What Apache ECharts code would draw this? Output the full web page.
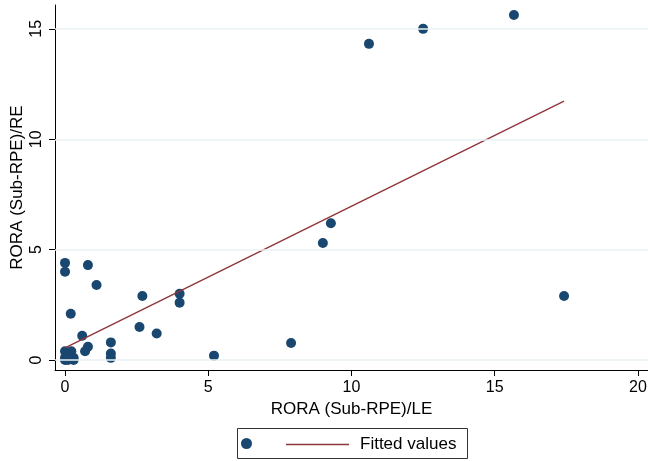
<!DOCTYPE html>
<html>
<head>
<meta charset="utf-8">
<script src="https://cdn.jsdelivr.net/npm/echarts@6/dist/echarts.min.js"></script>
<style>html,body{margin:0;padding:0;background:#fff;}#c{width:648px;height:461px;}</style>
</head>
<body>
<div id="c"></div>
<script>
const xTicks = [0, 5, 10, 15, 20];
const yTicks = [0, 5, 10, 15];
const obsX = [15.67, 12.5, 10.61, 17.42, 9.28, 9.0, 7.89, 5.2, 4.0, 4.0, 3.2, 2.7, 2.6, 1.6, 1.6, 1.6, 1.1, 0.8, 0.8, 0.7, 0.6, 0.2, 0, 0, 0, 0.22, 0, 0, 0.1, 0.3, 0.3, 0.1];
const obsY = [15.63, 15.0, 14.32, 2.9, 6.2, 5.3, 0.77, 0.2, 3.0, 2.6, 1.2, 2.9, 1.5, 0.8, 0.3, 0.1, 3.4, 4.3, 0.6, 0.4, 1.1, 2.1, 4.4, 4.0, 0.4, 0.4, 0.1, 0, 0, 0.1, 0, 0.2];
const fitX = [0, 17.42];
const fitY = [0.55, 11.73];

const font = "'Liberation Sans', Arial, sans-serif";
const chart = echarts.init(document.getElementById('c'));
chart.setOption({
  animation: false,
  backgroundColor: '#fff',
  textStyle: { fontFamily: font },
  grid: { left: 55, right: 0, top: 5, bottom: 91, containLabel: false, outerBoundsMode: 'none' },
  xAxis: {
    type: 'value', min: -0.35, max: 20.35,
    name: 'RORA (Sub-RPE)/LE', nameLocation: 'middle', nameGap: 31, nameMoveOverlap: false,
    nameTextStyle: { fontSize: 17, color: '#000', fontFamily: font },
    axisLine: { show: true, onZero: false, lineStyle: { color: '#000', width: 1 } },
    axisTick: { show: true, customValues: xTicks, length: 6, lineStyle: { color: '#000' } },
    axisLabel: { customValues: xTicks, fontSize: 16, color: '#000', margin: 10, fontFamily: font },
    splitLine: { show: false }
  },
  yAxis: {
    type: 'value', min: -0.45, max: 16.08,
    name: 'RORA (Sub-RPE)/RE', nameLocation: 'middle', nameGap: 29, nameMoveOverlap: false,
    nameTextStyle: { fontSize: 17, color: '#000', fontFamily: font },
    axisLine: { show: true, onZero: false, lineStyle: { color: '#000', width: 1 } },
    axisTick: { show: true, customValues: yTicks, length: 6, lineStyle: { color: '#000' } },
    axisLabel: { customValues: yTicks, fontSize: 16, color: '#000', margin: 10, rotate: 90, fontFamily: font },
    splitLine: { show: false }
  },
  legend: [
    {
      data: [{ name: ' ', icon: 'circle' }],
      left: 241, top: 438, padding: 0, itemWidth: 11, itemHeight: 11,
      formatter: function () { return ''; },
      textStyle: { fontSize: 11 }
    },
    {
      data: [{ name: 'Fitted values', icon: 'rect' }],
      left: 286, top: 436, padding: 0, itemWidth: 63, itemHeight: 1.5,
      textStyle: { fontSize: 17, color: '#000', fontFamily: font, padding: [0, 0, 0, 6] }
    }
  ],
  graphic: [{
    type: 'rect', silent: true, x: 0, y: 0,
    shape: { x: 237.5, y: 428.5, width: 230, height: 30 },
    style: { fill: 'none', stroke: '#333', lineWidth: 1 }
  }],
  series: [
    {
      name: 'gridlines', type: 'scatter', data: [], z: 1, silent: true,
      markLine: {
        silent: true, symbol: 'none', label: { show: false },
        lineStyle: { color: '#eaf2f3', width: 1.5, type: 'solid' },
        data: yTicks.map(v => ({ yAxis: v }))
      }
    },
    {
      name: ' ', type: 'scatter', z: 3, clip: false,
      symbolSize: 10,
      itemStyle: { color: '#1a476f', opacity: 1 },
      data: obsX.map((x, i) => [x, obsY[i]])
    },
    {
      name: 'Fitted values', type: 'line', z: 4, symbol: 'none', clip: false,
      lineStyle: { color: '#90353b', width: 1.4 },
      itemStyle: { color: '#90353b' },
      data: fitX.map((x, i) => [x, fitY[i]])
    }
  ]
});
</script>
</body>
</html>
